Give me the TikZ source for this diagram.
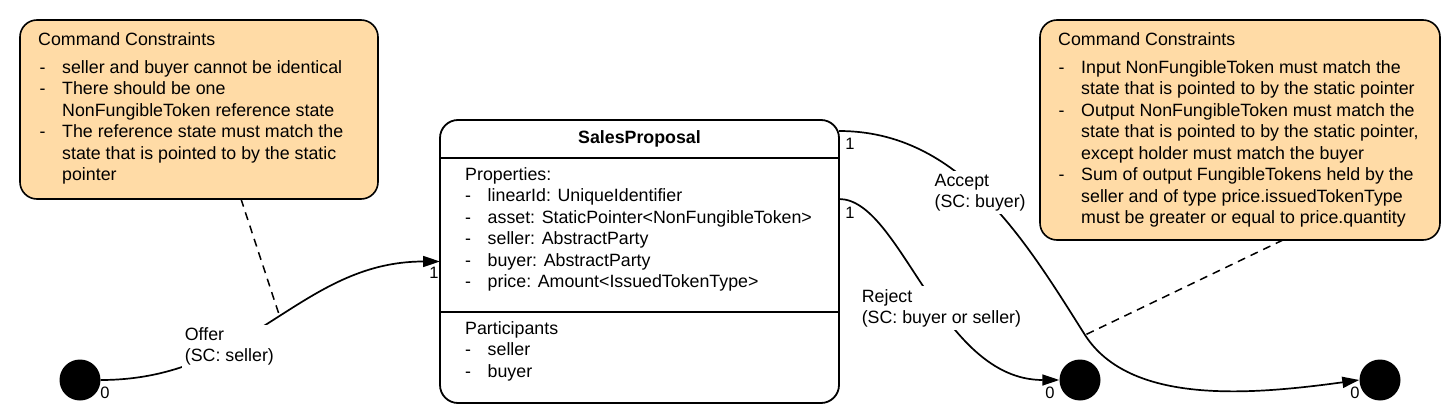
\documentclass[tikz,border=0pt]{standalone}
\usepackage{fontspec}
\setmainfont{Liberation Sans}
\usetikzlibrary{arrows.meta,calc,positioning}
\definecolor{notefill}{HTML}{FFDBA6}
\tikzset{
  note/.style={draw=black, fill=notefill, line width=1.6pt, rounded corners=17pt, outer sep=0pt},
  statebox/.style={draw=black, fill=white, line width=1.8pt, rounded corners=18pt, outer sep=0pt},
  endpoint/.style={circle, fill=black, minimum size=41pt, inner sep=0pt},
  edge/.style={line width=1.7pt, -{Triangle[length=17pt,width=11pt]}},
  elabel/.style={fill=white, align=left, inner sep=3pt},
  dashline/.style={line width=1.5pt, dash pattern=on 8pt off 6pt},
  txt/.style={anchor=base west, inner sep=0pt},
  numlabel/.style={font=\fontsize{16.5}{19}\selectfont, inner sep=0pt}
}
\newcommand{\itemtab}[1]{\begin{tabular}[t]{@{}p{22.5pt}@{}l@{}}#1\end{tabular}}

\begin{document}
\begin{tikzpicture}[x=1pt, y=-1pt, every node/.style={font=\fontsize{17.8}{21.5}\selectfont}]
\useasboundingbox (0,0) rectangle (1452,420);

% constraint notes
\node[note, minimum width=358pt, minimum height=179pt] (lnote) at (199,109.5) {};
\node[txt] (lhead) at (38,46) {Command Constraints};
\node[txt] (llist) at (39.5,73.5) {\itemtab{
  - & seller and buyer cannot be identical \\
  - & There should be one \\
    & NonFungibleToken reference state \\
  - & The reference state must match the \\
    & state that is pointed to by the static \\
    & pointer}};

\node[note, minimum width=400pt, minimum height=220pt] (rnote) at (1240,130) {};
\node[txt] (rhead) at (1058,46) {Command Constraints};
\node[txt] (rlist) at (1058.5,73.5) {\itemtab{
  - & Input NonFungibleToken must match the \\
    & state that is pointed to by the static pointer \\
  - & Output NonFungibleToken must match the \\
    & state that is pointed to by the static pointer, \\
    & except holder must match the buyer \\
  - & Sum of output FungibleTokens held by the \\
    & seller and of type price.issuedTokenType \\
    & must be greater or equal to price.quantity}};

% state
\node[statebox, minimum width=399pt, minimum height=283pt] (sp) at (639.5,261.5) {};
\draw[line width=1.6pt] ($(sp.north west)+(0,38)$) -- ($(sp.north east)+(0,38)$);
\draw[line width=1.6pt] ($(sp.north west)+(0,192)$) -- ($(sp.north east)+(0,192)$);
\node[anchor=base, inner sep=0pt, font=\fontsize{17.8}{21.5}\selectfont\bfseries] (sptitle) at (639.5,143) {SalesProposal};
\node[txt] (props) at (465,180) {\itemtab{
  \multicolumn{2}{@{}l@{}}{Properties:} \\
  - & linearId: UniqueIdentifier \\
  - & asset: StaticPointer<NonFungibleToken> \\
  - & seller: AbstractParty \\
  - & buyer: AbstractParty \\
  - & price: Amount<IssuedTokenType>}};
\node[txt] (parts) at (465,334.3) {\itemtab{
  \multicolumn{2}{@{}l@{}}{Participants} \\
  - & seller \\
  - & buyer}};

% start and end points
\node[endpoint] (s0) at (80,380) {};
\node[endpoint] (s1) at (1080,380) {};
\node[endpoint] (s2) at (1380,380) {};

% transitions
\draw[edge] (s0.east) .. controls +(150,0) and +(-140,0) ..
  node[elabel, pos=0.35] (offer) {Offer\\(SC: seller)}
  coordinate[pos=0.52] (offmid) (sp.west);
\draw[edge] ($(sp.north east)+(0,11)$) .. controls (960,131) and (1025,240) ..
  node[elabel, pos=0.48] (accept) {Accept\\(SC: buyer)}
  (1085,335) coordinate (accmid) .. controls (1130,405) and (1250,395) .. (s2.west);
\draw[edge] ($(sp.north east)+(0,79)$) .. controls +(62,0) and +(-120,0) ..
  node[elabel, pos=0.57] (reject) {Reject\\(SC: buyer or seller)} (s1.west);

% multiplicities
\node[numlabel] (m0) at (105,393) {0};
\node[numlabel] (m1) at (434,273) {1};
\node[numlabel] (m2) at (850,144) {1};
\node[numlabel] (m3) at (850,213) {1};
\node[numlabel] (m4) at (1050,393) {0};
\node[numlabel] (m5) at (1355,393) {0};

% note links
\draw[dashline] ([xshift=42pt]lnote.south) -- (offmid);
\draw[dashline] ([xshift=43pt]rnote.south) -- (accmid);
\end{tikzpicture}
\end{document}
